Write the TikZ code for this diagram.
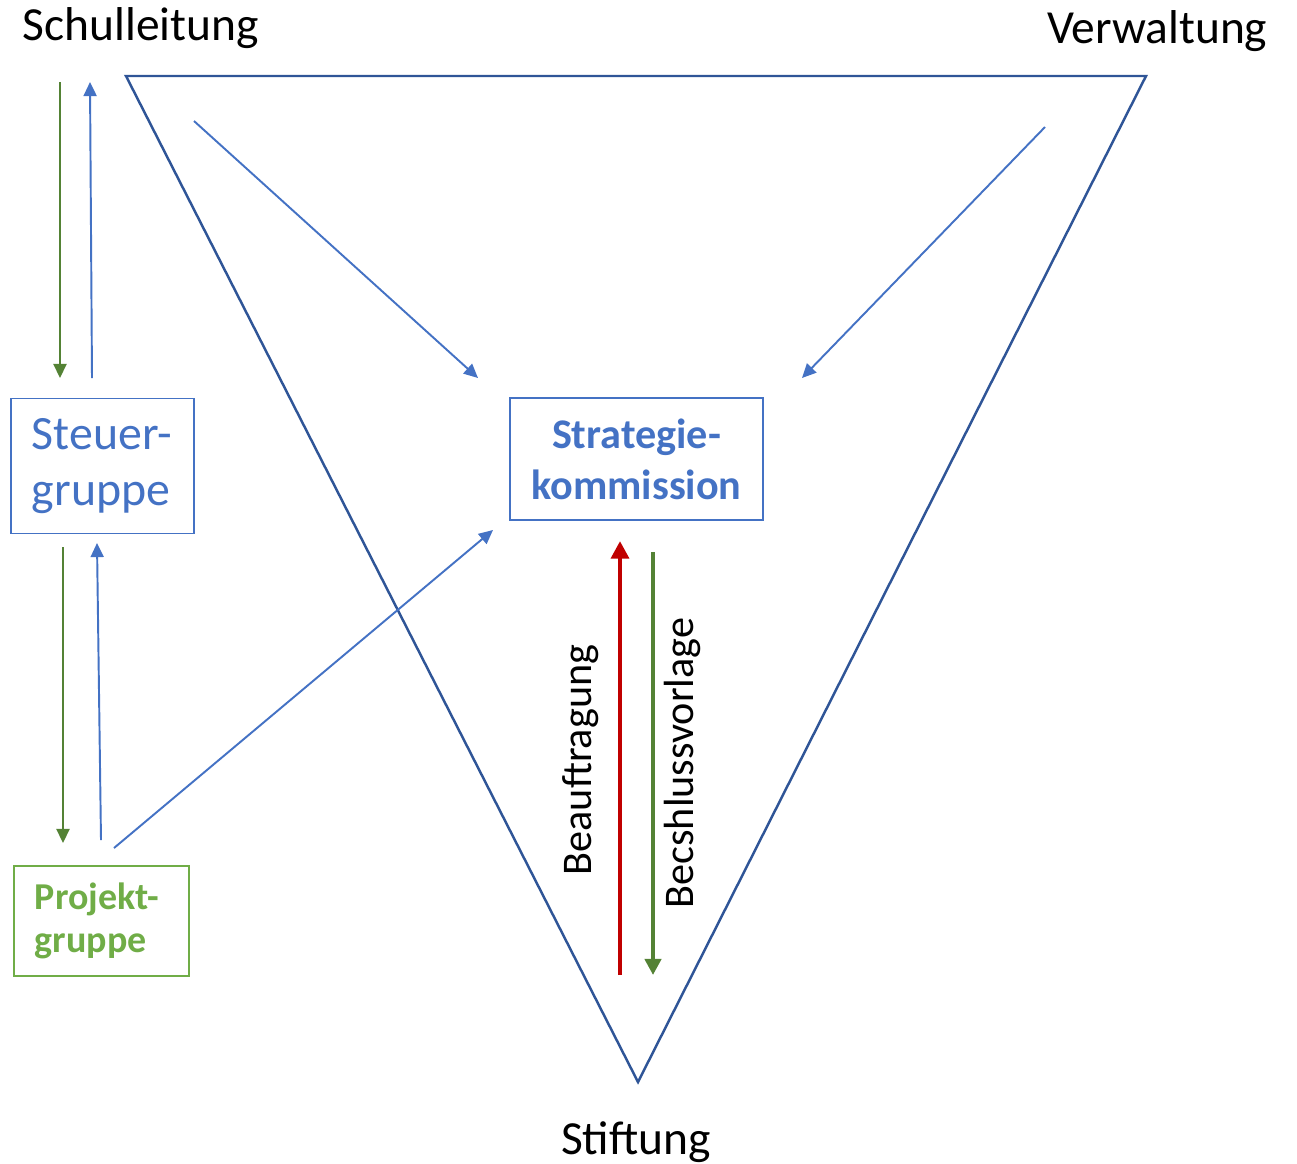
\documentclass[tikz,border=0pt]{standalone}
\usepackage{fontspec}
\setmainfont{Carlito}
\usetikzlibrary{arrows.meta,calc}
\definecolor{accblue}{HTML}{4472C4}
\definecolor{darkblue}{HTML}{2F5597}
\definecolor{accgreen}{HTML}{70AD47}
\definecolor{darkgreen}{HTML}{548235}
\definecolor{darkred}{HTML}{C00000}

\begin{document}
\begin{tikzpicture}[x=0.01cm,y=-0.01cm,
    place/.style={inner sep=0pt,font=\fontsize{13.5}{16}\selectfont},
    group/.style={draw=accblue,line width=0.45pt,inner sep=0pt,text=accblue},
    frame/.style={draw=darkblue,line width=0.7pt,line join=miter},
    flow/.style={accblue,line width=0.55pt,-{Triangle[length=4pt,width=3.7pt]}},
    back/.style={darkgreen,line width=0.65pt,-{Triangle[length=4pt,width=3.7pt]}},
    order/.style={darkred,line width=1.4pt,-{Triangle[length=5pt,width=5pt]}},
    draft/.style={darkgreen,line width=1.15pt,-{Triangle[length=4.6pt,width=4.6pt]}}
    ]

  \useasboundingbox (0,0) rectangle (1297,1163);

  \node(schul) [place,anchor=base west] at (22,40) {Schulleitung};
  \node(verw) [place,anchor=base east] at (1268,43) {Verwaltung};
  \node(stift) [place,anchor=base] at (636,1154) {Stiftung};

  \coordinate(tl) at (126,76);
  \coordinate(tr) at (1146,76);
  \coordinate(tb) at (638,1082);
  \draw[frame] (tl) -- (tr) -- (tb) -- cycle;

  \node(steuer) [group,minimum height=1.35cm,inner xsep=0.21cm,text width=1.41cm,align=left,
    font=\fontsize{13.6}{15.8}\selectfont] at (102.5,466) {Steuer-\\gruppe};
  \node(strat) [group,minimum width=2.53cm,minimum height=1.22cm,align=center,
    font=\fontsize{12}{14.5}\selectfont\bfseries] at (636.5,459) {Strategie-\\kommission};
  \node(projekt) [group,draw=accgreen,text=accgreen,minimum height=1.1cm,inner xsep=0.21cm,text width=1.33cm,align=left,
    font=\fontsize{10.8}{12.3}\selectfont\bfseries] at (101.5,921) {Projekt-\\gruppe};

  \coordinate(a1) at (60,82);
  \coordinate(a2) at (60,378);
  \coordinate(b1) at (92,378);
  \coordinate(b2) at (90,82);
  \coordinate(c1) at (63,547);
  \coordinate(c2) at (63,843);
  \coordinate(d1) at (101,840);
  \coordinate(d2) at (97,543);

  \draw[back] (a1) -- (a2);
  \draw[flow] (b1) -- (b2);
  \draw[back] (c1) -- (c2);
  \draw[flow] (d1) -- (d2);

  \coordinate(e1) at (194,121);
  \coordinate(e2) at (478,378);
  \coordinate(f1) at (1045,127);
  \coordinate(f2) at (802,378);
  \coordinate(g1) at (114,848);
  \coordinate(g2) at (493,530);

  \draw[flow] (e1) -- (e2);
  \draw[flow] (f1) -- (f2);
  \draw[flow] (g1) -- (g2);

  \coordinate(r1) at (620,975);
  \coordinate(r2) at (620,541);
  \coordinate(v1) at (653,552);
  \coordinate(v2) at (653,975);

  \draw[order] (r1) -- (r2);
  \draw[draft] (v1) -- (v2);

  \node(auftrag) [place,font=\fontsize{12}{14}\selectfont,rotate=90,anchor=base] at (591,760) {Beauftragung};
  \node(vorlage) [place,font=\fontsize{12}{14}\selectfont,rotate=90,anchor=base] at (693,763) {Becshlussvorlage};

\end{tikzpicture}
\end{document}
